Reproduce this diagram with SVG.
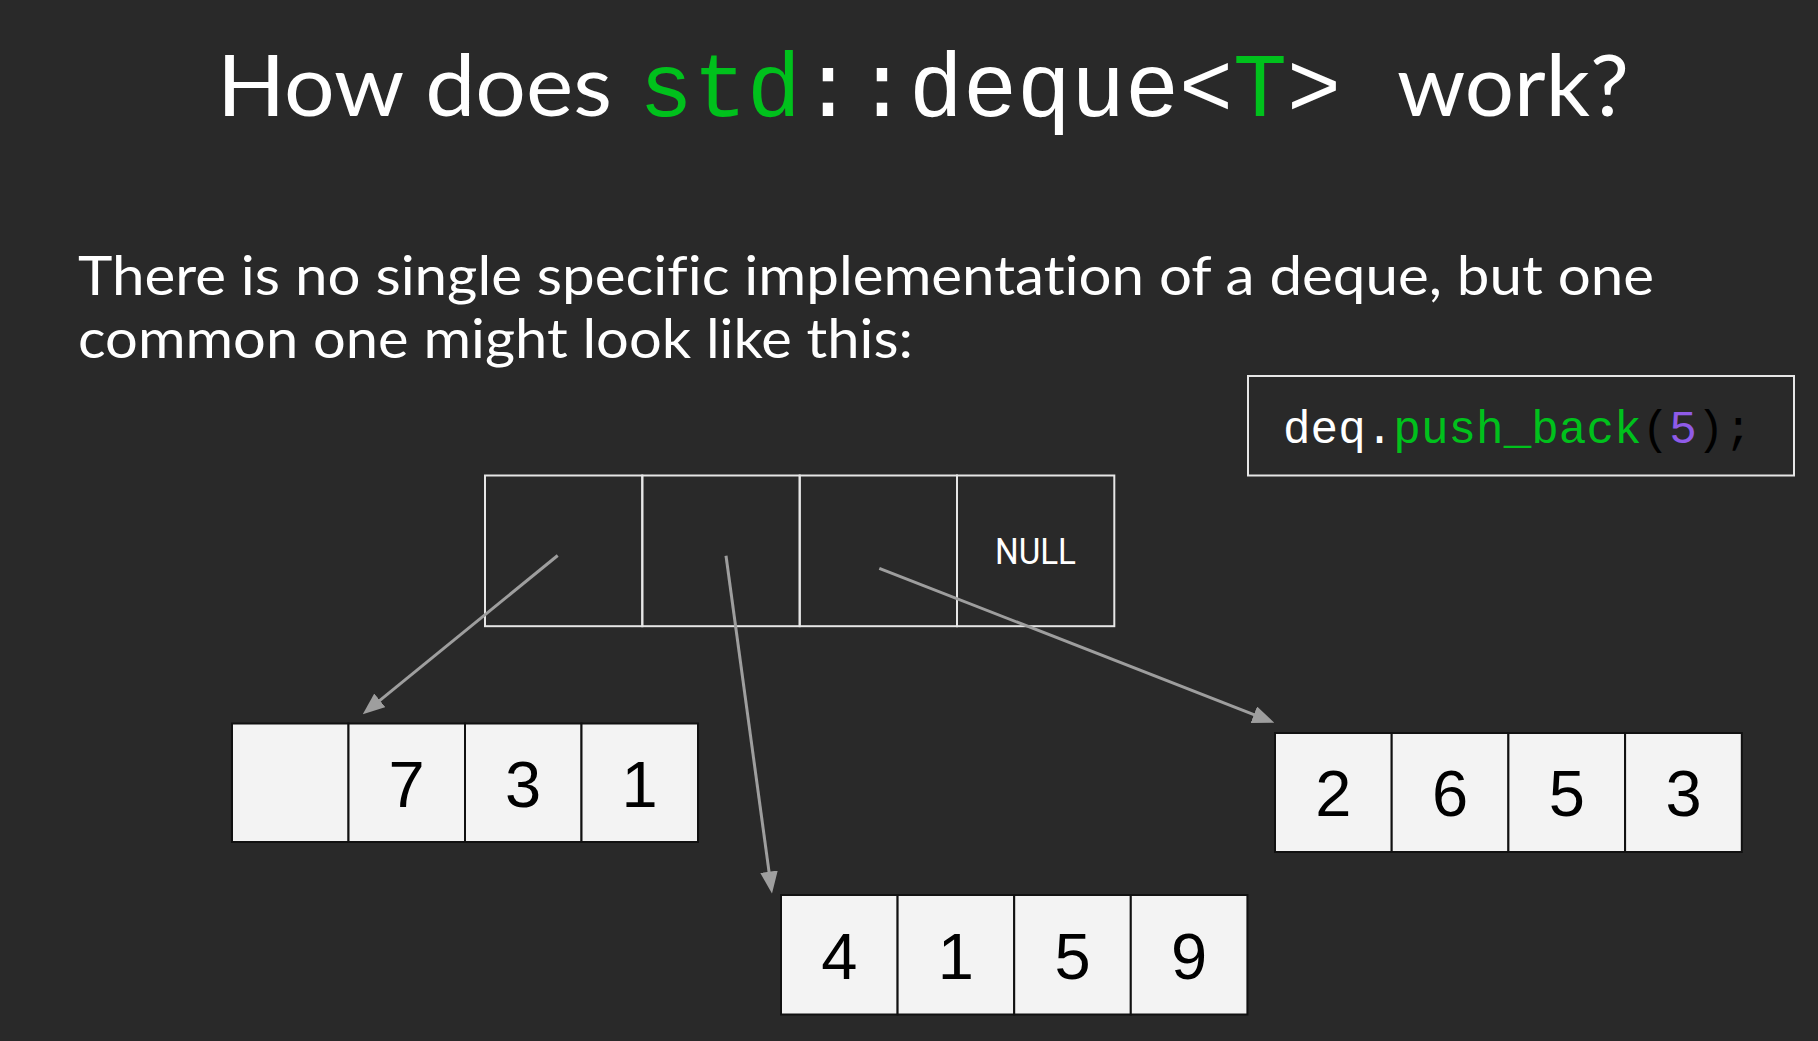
<svg xmlns="http://www.w3.org/2000/svg" width="1818" height="1041" viewBox="0 0 1818 1041">
<style>
.sans{font-family:"Lato","Open Sans","Noto Sans",sans-serif;fill:#ffffff;font-variant-ligatures:none;font-feature-settings:"liga" 0,"clig" 0,"dlig" 0}
.mono{font-family:"Liberation Mono","Courier New",monospace}
.green{fill:#00c11c}
.white{fill:#ffffff}
.cell{fill:#f3f3f3;stroke:#111111;stroke-width:2}
.mapcell{fill:none;stroke:#e6e6e6;stroke-width:2}
.digit{font-family:"Liberation Sans",Arial,sans-serif;font-size:65px;fill:#000000;text-anchor:middle}
.conn{stroke:#9e9e9e;stroke-width:3;fill:none;marker-end:url(#arr)}
</style>
<defs>
<marker id="arr" viewBox="0 0 10 8" refX="5" refY="4" markerWidth="22" markerHeight="17.6" markerUnits="userSpaceOnUse" orient="auto">
<path d="M0,0 L10,4 L0,8 z" fill="#9e9e9e"/>
</marker>
</defs>
<rect x="0" y="0" width="1818" height="1041" fill="#292929"/>

<g id="title">
<text class="sans" x="217" y="116" font-size="86" textLength="395" lengthAdjust="spacingAndGlyphs">How does</text>
<text class="mono" x="639" y="116" font-size="90" textLength="702" lengthAdjust="spacingAndGlyphs"><tspan class="green">std</tspan><tspan class="white">::deque&lt;</tspan><tspan class="green">T</tspan><tspan class="white">&gt;</tspan></text>
<text class="sans" x="1397" y="116" font-size="86" textLength="232" lengthAdjust="spacingAndGlyphs">work?</text>
</g>

<g id="description">
<text class="sans" x="78" y="295" font-size="54" textLength="1576" lengthAdjust="spacingAndGlyphs">There is no single specific implementation of a deque, but one</text>
<text class="sans" x="78" y="358" font-size="54" textLength="835" lengthAdjust="spacingAndGlyphs">common one might look like this:</text>
</g>

<g id="code">
<rect x="1248" y="376" width="546" height="99.5" fill="none" stroke="#e6e6e6" stroke-width="2"/>
<text class="mono" x="1283" y="443" font-size="46" textLength="469" lengthAdjust="spacingAndGlyphs"><tspan fill="#ffffff">deq.</tspan><tspan class="green">push_back</tspan><tspan fill="#000000">(</tspan><tspan fill="#8f5be8">5</tspan><tspan fill="#000000">);</tspan></text>
</g>

<g id="map">
<rect class="mapcell" x="485" y="475.5" width="157.3" height="150.7"/>
<rect class="mapcell" x="642.3" y="475.5" width="157.4" height="150.7"/>
<rect class="mapcell" x="799.7" y="475.5" width="157.3" height="150.7"/>
<rect class="mapcell" x="957" y="475.5" width="157.3" height="150.7"/>
<text x="1035.5" y="563.5" font-family="Roboto,'Liberation Sans',sans-serif" font-size="36" fill="#ffffff" text-anchor="middle" textLength="81" lengthAdjust="spacingAndGlyphs">NULL</text>
</g>

<g id="block-left">
<rect class="cell" x="232" y="723.5" width="116.5" height="118.5"/>
<rect class="cell" x="348.5" y="723.5" width="116.5" height="118.5"/>
<rect class="cell" x="465" y="723.5" width="116.5" height="118.5"/>
<rect class="cell" x="581.5" y="723.5" width="116.5" height="118.5"/>
<text class="digit" x="406.7" y="807">7</text>
<text class="digit" x="523.2" y="807">3</text>
<text class="digit" x="639.7" y="807">1</text>
</g>

<g id="block-middle">
<rect class="cell" x="781" y="895" width="116.6" height="119.5"/>
<rect class="cell" x="897.6" y="895" width="116.6" height="119.5"/>
<rect class="cell" x="1014.2" y="895" width="116.6" height="119.5"/>
<rect class="cell" x="1130.8" y="895" width="116.6" height="119.5"/>
<text class="digit" x="839.3" y="979">4</text>
<text class="digit" x="955.9" y="979">1</text>
<text class="digit" x="1072.5" y="979">5</text>
<text class="digit" x="1189.1" y="979">9</text>
</g>

<g id="block-right">
<rect class="cell" x="1275" y="733" width="116.7" height="119"/>
<rect class="cell" x="1391.7" y="733" width="116.7" height="119"/>
<rect class="cell" x="1508.4" y="733" width="116.7" height="119"/>
<rect class="cell" x="1625.1" y="733" width="116.7" height="119"/>
<text class="digit" x="1333.4" y="816">2</text>
<text class="digit" x="1450.1" y="816">6</text>
<text class="digit" x="1566.8" y="816">5</text>
<text class="digit" x="1683.5" y="816">3</text>
</g>

<g id="connectors">
<line class="conn" x1="557.7" y1="555.5" x2="371.3" y2="707.3"/>
<line class="conn" x1="726" y1="555.7" x2="770.5" y2="882.6"/>
<line class="conn" x1="879.3" y1="568.3" x2="1264.1" y2="718.7"/>
</g>
</svg>
